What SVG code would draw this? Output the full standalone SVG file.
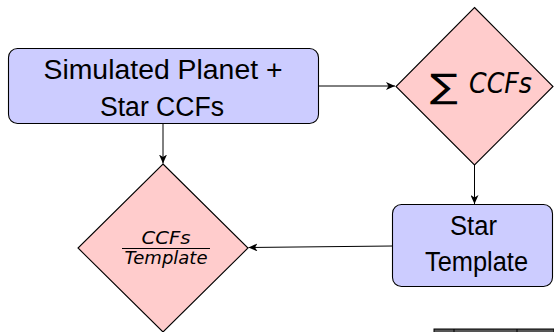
<svg xmlns="http://www.w3.org/2000/svg" width="554" height="332" viewBox="0 0 554 332">
<style>
.box{fill:#ccccff;stroke:#000;stroke-width:1.1}
.dia{fill:#ffcccc;stroke:#000;stroke-width:1.1}
.t{font-family:"Liberation Sans","DejaVu Sans",sans-serif;font-size:27px;fill:#000;text-anchor:middle}
.it{font-family:"DejaVu Sans","Liberation Sans",sans-serif;font-style:italic;fill:#000;text-anchor:middle}
.sg{font-family:"DejaVu Sans","Liberation Sans",sans-serif;font-style:normal;fill:#000;text-anchor:start}
.c{stroke:#000;stroke-width:1;fill:none;marker-end:url(#ah)}
</style>
<defs>
<marker id="ah" markerWidth="10" markerHeight="8" refX="9" refY="4" orient="auto" markerUnits="userSpaceOnUse">
<path d="M0,0 L9,4 L0,8 L2.5,4 Z" fill="#000"/>
</marker>
</defs>
<g id="connectors">
<line class="c" x1="318" y1="86" x2="395" y2="86"/>
<line class="c" x1="163" y1="123" x2="163" y2="163.5"/>
<line class="c" x1="474.5" y1="165" x2="474.5" y2="204"/>
<line class="c" x1="392.5" y1="246" x2="248.5" y2="247.5"/>
</g>
<g id="sim">
<rect class="box" x="8.5" y="48.5" width="310" height="75" rx="9"/>
<text class="t" x="163" y="79" textLength="239" lengthAdjust="spacingAndGlyphs">Simulated Planet +</text>
<text class="t" x="162" y="116" textLength="124" lengthAdjust="spacingAndGlyphs">Star CCFs</text>
</g>
<g id="sum">
<polygon class="dia" points="474.5,7.5 553,86.5 474.5,165 396,86.5"/>
<text class="sg" x="430" y="98" font-size="34" textLength="28" lengthAdjust="spacingAndGlyphs">∑</text>
<text class="it" x="500.5" y="93" font-size="28" textLength="63" lengthAdjust="spacingAndGlyphs">CCFs</text>
</g>
<g id="ratio">
<polygon class="dia" points="163,164 248,248 163,332 78,248"/>
<text class="it" x="166" y="244" font-size="18" textLength="49" lengthAdjust="spacingAndGlyphs">CCFs</text>
<line x1="122" y1="248.5" x2="210" y2="248.5" stroke="#000" stroke-width="1"/>
<text class="it" x="166" y="264" font-size="18" textLength="83" lengthAdjust="spacingAndGlyphs">Template</text>
</g>
<g id="star">
<rect class="box" x="392.5" y="204.5" width="160" height="82" rx="9"/>
<text class="t" x="473.5" y="235" textLength="47" lengthAdjust="spacingAndGlyphs">Star</text>
<text class="t" x="476.5" y="271" textLength="103" lengthAdjust="spacingAndGlyphs">Template</text>
</g>
<g id="table">
<rect x="434" y="329" width="120" height="4" fill="#555" stroke="#000" stroke-width="1"/>
<line x1="454" y1="329" x2="454" y2="332" stroke="#000"/>
<line x1="517" y1="329" x2="517" y2="332" stroke="#000"/>
</g>
</svg>
